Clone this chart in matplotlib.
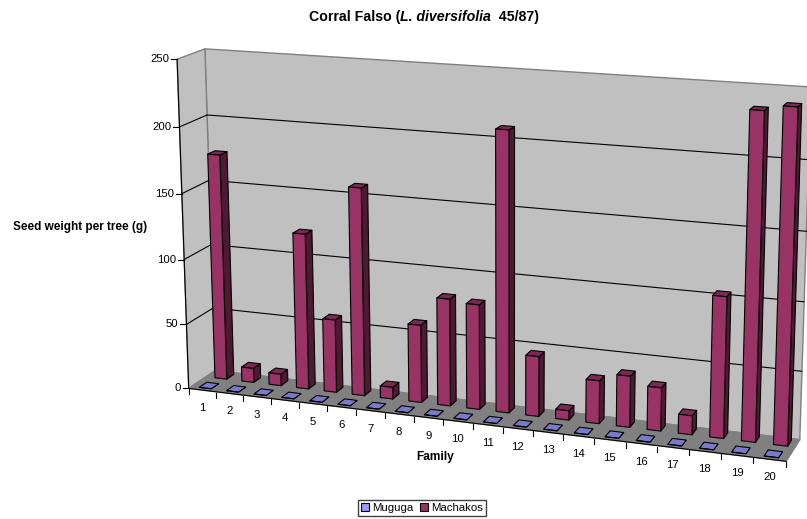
import numpy as np
import matplotlib
matplotlib.use("Agg")
import matplotlib.pyplot as plt
from matplotlib.patches import Polygon, Patch

plt.rcParams["font.family"] = ["Liberation Sans", "DejaVu Sans"]

# Seed weight per tree (g) by family
families = list(range(1, 21))
muguga = [0] * 20
machakos = [174, 11, 9, 119.5, 56, 158, 9, 59, 81, 79,
            209, 45, 7, 32, 38, 32, 14, 103, 235, 239]
y_ticks = [0, 50, 100, 150, 200, 250]

Y_MAX = 250
N = len(families)

# Corners of the plot box: (category position, value, depth) and where they land on the canvas
box_world = [(0, 0, 0), (N, 0, 0), (0, Y_MAX, 0), (0, 0, 1),
             (N, 0, 1), (0, Y_MAX, 1), (N, Y_MAX, 1)]
box_canvas = [(189, 388), (786, 462), (177, 59), (215, 371),
              (800, 439), (205, 49), (811, 87)]


def fit_camera(world, canvas):
    """Solve the 3x4 perspective camera for the box corners."""
    rows = []
    for (x, y, z), (u, v) in zip(world, canvas):
        # scale the world axes so the system stays well conditioned
        p = [x / N, y / Y_MAX, z, 1]
        rows.append(p + [0, 0, 0, 0] + [-u * c for c in p])
        rows.append([0, 0, 0, 0] + p + [-v * c for c in p])
    _, _, vt = np.linalg.svd(np.array(rows, float))
    return vt[-1].reshape(3, 4)


CAMERA = fit_camera(box_world, box_canvas)


def project(x, y, z):
    h = CAMERA @ np.array([x / N, y / Y_MAX, z, 1.0])
    return h[0] / h[2], h[1] / h[2]


fig = plt.figure(figsize=(8.07, 5.19), dpi=100)
ax = fig.add_axes([0, 0, 1, 1])
ax.set_xlim(0, 807)
ax.set_ylim(519, 0)
ax.axis("off")


def face(points, color, edge="black", lw=0.8, zorder=1):
    ax.add_patch(Polygon([project(*p) for p in points], closed=True, facecolor=color,
                         edgecolor=edge, linewidth=lw, joinstyle="round", zorder=zorder))


def segment(a, b, color="black", lw=0.8, zorder=2):
    pa, pb = project(*a), project(*b)
    ax.plot([pa[0], pb[0]], [pa[1], pb[1]], color=color, lw=lw, zorder=zorder,
            solid_capstyle="round")


# Walls and floor
WALL = "#c0c0c0"
FLOOR = "#808080"
EDGE = "#808080"
face([(0, 0, 1), (N, 0, 1), (N, Y_MAX, 1), (0, Y_MAX, 1)], WALL, EDGE, 1.0)
face([(0, 0, 0), (0, 0, 1), (0, Y_MAX, 1), (0, Y_MAX, 0)], WALL, EDGE, 1.0)
face([(0, 0, 0), (N, 0, 0), (N, 0, 1), (0, 0, 1)], FLOOR, EDGE, 1.0)

# Gridlines run along the side wall and the back wall
for v in y_ticks[1:-1]:
    segment((0, v, 0), (0, v, 1), zorder=2)
    segment((0, v, 1), (N, v, 1), zorder=2)

# Axis lines and ticks
segment((0, 0, 0), (0, Y_MAX, 0), zorder=2)
segment((0, 0, 0), (N, 0, 0), zorder=2)
for v in y_ticks:
    u, w = project(0, v, 0)
    ax.plot([u - 6, u], [w, w], color="black", lw=0.8, zorder=2)
    ax.text(u - 8, w, str(v), ha="right", va="center", fontsize=8.2, color="black")
for i in range(N + 1):
    u, w = project(i, 0, 0)
    ax.plot([u, u], [w + 1, w + 6], color="black", lw=0.8, zorder=2)
for i, fam in enumerate(families):
    u, w = project(i + 0.5, 0, 0)
    ax.text(u, w + 18, str(fam), ha="center", va="center", fontsize=8.2, color="black")


def column(i, value, x_off, z0, z1, front, top, side, zorder):
    x0, x1 = i + x_off, i + x_off + 0.44
    face([(x1, 0, z0), (x1, 0, z1), (x1, value, z1), (x1, value, z0)], side, zorder=zorder)
    face([(x0, value, z0), (x1, value, z0), (x1, value, z1), (x0, value, z1)], top, zorder=zorder)
    face([(x0, 0, z0), (x1, 0, z0), (x1, value, z0), (x0, value, z0)], front, zorder=zorder)


# Back row first, then the front row, each left to right
for i, v in enumerate(machakos):
    column(i, v, 0.33, 0.65, 0.92, "#993366", "#7a2952", "#4d1933", 3 + i * 0.01)
for i, v in enumerate(muguga):
    column(i, v, 0.28, 0.11, 0.39, "#9999ff", "#7a7acc", "#4d4d80", 4 + i * 0.01)

# Title pieces laid end to end so only the species name is italic
renderer = fig.canvas.get_renderer()
pieces = [("Corral Falso (", "normal"), ("L. diversifolia", "italic"), ("  45/87)", "normal")]
texts = [ax.text(0, 17, s, fontsize=10.2, fontweight="bold", fontstyle=st, va="center", ha="left")
         for s, st in pieces]
widths = [t.get_window_extent(renderer).width for t in texts]
left = 424 - sum(widths) / 2
for t, w in zip(texts, widths):
    t.set_x(left)
    left += w

ax.text(79.7, 227, "Seed weight per tree (g)", fontsize=8.5, fontweight="bold",
        ha="center", va="center")
ax.text(435.5, 457, "Family", fontsize=8.6, fontweight="bold", ha="center", va="center")

handles = [Patch(facecolor="#9999ff", edgecolor="black", linewidth=0.8, label="Muguga"),
           Patch(facecolor="#993366", edgecolor="black", linewidth=0.8, label="Machakos")]
ax.legend(handles=handles, loc="center", bbox_to_anchor=(422 / 807, 1 - 508 / 519),
          ncol=2, fontsize=8.2, frameon=True, fancybox=False, edgecolor="#404040",
          framealpha=1, handlelength=0.65, handleheight=0.65, handletextpad=0.3,
          columnspacing=0.6, borderpad=0.3, borderaxespad=0)

fig.savefig("out.png", dpi=100)
